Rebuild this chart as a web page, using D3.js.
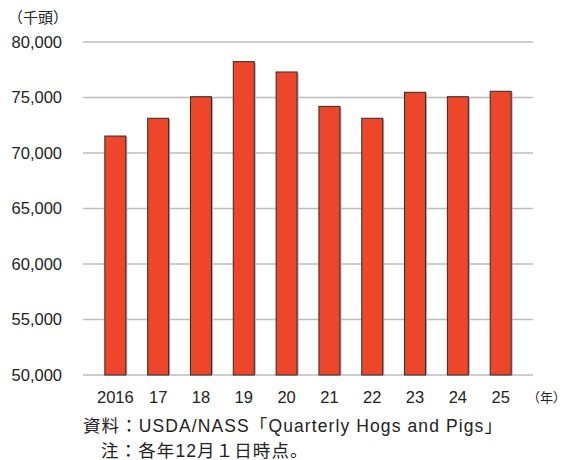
<!DOCTYPE html>
<html>
<head>
<meta charset="utf-8">
<script src="https://cdn.jsdelivr.net/npm/d3@7"></script>
<style>
  body { margin: 0; background: #fff; }
  text { font-family: "Liberation Sans", "Noto Sans CJK JP", sans-serif; fill: #222; }
</style>
</head>
<body>
<div id="chart"></div>
<script>
const svgWidth = 570
const svgHeight = 460

// data (thousand head, Dec 1 each year)
const years = ["2016", "17", "18", "19", "20", "21", "22", "23", "24", "25"]
const hogs = [71530, 73130, 75070, 78230, 77300, 74200, 73130, 75470, 75070, 75560]
const yTicks = [50000, 55000, 60000, 65000, 70000, 75000, 80000]

let margin = { top: 42, right: 37, bottom: 85, left: 83 }
let width = svgWidth - margin.left - margin.right
let height = svgHeight - margin.top - margin.bottom

let svg = d3.select("#chart")
  .append("svg")
  .attr("width", svgWidth)
  .attr("height", svgHeight)

let chartGroup = svg.append("g")
  .attr("transform", `translate(${margin.left}, ${margin.top})`)

let x = d3.scaleBand().domain(years).range([0, width]).padding(0.51)
let y = d3.scaleLinear().domain([50000, 80000]).range([height, 0])

// gridlines
chartGroup.append("g")
  .selectAll("line")
  .data(yTicks)
  .enter()
  .append("line")
  .attr("x1", 0)
  .attr("x2", width)
  .attr("y1", d => y(d))
  .attr("y2", d => y(d))
  .attr("stroke", "#bdbdbd")
  .attr("stroke-width", 1.4)

// y labels
chartGroup.append("g")
  .selectAll("text")
  .data(yTicks)
  .enter()
  .append("text")
  .attr("x", -21)
  .attr("y", d => y(d))
  .attr("dy", "0.35em")
  .attr("text-anchor", "end")
  .style("font-size", "16.5px")
  .text(d => d3.format(",")(d))

// bar shadows
chartGroup.append("g")
  .selectAll("rect")
  .data(hogs)
  .enter()
  .append("rect")
  .attr("x", (d, i) => x(years[i]) + 1.5)
  .attr("y", d => y(d) + 1)
  .attr("width", x.bandwidth())
  .attr("height", d => height - y(d) - 1)
  .attr("fill", "#b0b0b0")

// bars
chartGroup.append("g")
  .selectAll("rect")
  .data(hogs)
  .enter()
  .append("rect")
  .attr("x", (d, i) => x(years[i]))
  .attr("y", d => y(d))
  .attr("width", x.bandwidth())
  .attr("height", d => height - y(d))
  .attr("fill", "#ee462b")
  .attr("stroke", "#2b2b2b")
  .attr("stroke-width", 1)

// x labels
chartGroup.append("g")
  .selectAll("text")
  .data(years)
  .enter()
  .append("text")
  .attr("x", d => x(d) + x.bandwidth() / 2)
  .attr("y", height + 28)
  .attr("text-anchor", "middle")
  .style("font-size", "16.5px")
  .text(d => d)

svg.append("text")
  .attr("x", 8).attr("y", 23)
  .style("font-size", "15px")
  .text("（千頭）")

svg.append("text")
  .attr("x", 527).attr("y", 402)
  .style("font-size", "13px")
  .text("（年）")

svg.append("text")
  .attr("x", 83).attr("y", 432)
  .style("font-size", "17.5px")
  .style("letter-spacing", "1.1px")
  .text("資料：USDA/NASS「Quarterly Hogs and Pigs」")

svg.append("text")
  .attr("x", 101).attr("y", 457)
  .style("font-size", "17.5px")
  .style("letter-spacing", "1.1px")
  .text("注：各年12月１日時点。")
</script>
</body>
</html>
